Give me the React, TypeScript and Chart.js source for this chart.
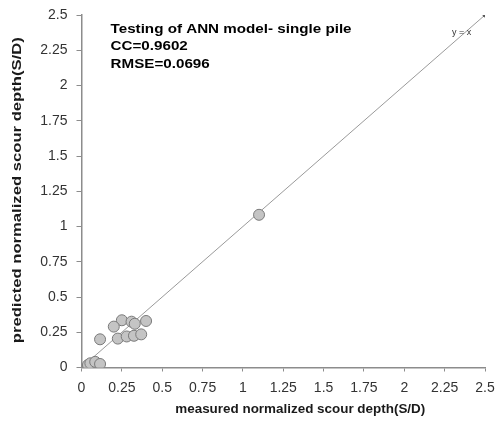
import React, { useEffect, useRef } from "react";
import { Chart, registerables } from "chart.js";

Chart.register(...registerables);

const measured = [0.25, 0.2, 0.31, 0.33, 0.4, 0.115, 0.225, 0.28, 0.325, 0.37, 0.04, 0.055, 0.085, 0.115, 1.1];
const predicted = [0.335, 0.29, 0.325, 0.31, 0.33, 0.2, 0.205, 0.22, 0.225, 0.235, 0.018, 0.03, 0.04, 0.025, 1.083];
const lineX = [0, 2.5];
const lineY = [0, 2.5];
const tickValues = [0, 0.25, 0.5, 0.75, 1, 1.25, 1.5, 1.75, 2, 2.25, 2.5];
const annotationLines = ["Testing of ANN model- single pile", "CC=0.9602", "RMSE=0.0696"];
const lineLabel = "y = x";
const xTitle = "measured normalized scour depth(S/D)";
const yTitle = "predicted normalized scour depth(S/D)";

const FONT = "'Liberation Sans', Arial, sans-serif";

function stretchedText(ctx: any, text: string, x: number, y: number, targetWidth: number, rotate = false) {
  const w = ctx.measureText(text).width;
  const k = targetWidth / w;
  ctx.save();
  ctx.translate(x, y);
  if (rotate) ctx.rotate(-Math.PI / 2);
  ctx.scale(k, 1);
  ctx.fillText(text, 0, 0);
  ctx.restore();
}

const textPlugin = {
  id: "textPlugin",
  afterDatasetsDraw(chart: any) {
    const { ctx, scales } = chart;
    const x = scales.x;
    const y = scales.y;
    ctx.save();
    ctx.fillStyle = "#000";
    ctx.font = `bold 13px ${FONT}`;
    ctx.textBaseline = "middle";
    ctx.textAlign = "left";
    const x0 = x.getPixelForValue(0.18);
    const y0 = y.getPixelForValue(2.4);
    const k = ctx.measureText(annotationLines[0]).width;
    const scale = 241 / k;
    annotationLines.forEach((t, i) => {
      ctx.save();
      ctx.translate(x0, y0 + i * 17.5);
      ctx.scale(scale, 1);
      ctx.fillText(t, 0, 0);
      ctx.restore();
    });
    ctx.font = `9px ${FONT}`;
    ctx.fillStyle = "#333";
    ctx.fillText(lineLabel, x.getPixelForValue(2.295), y.getPixelForValue(2.375));

    ctx.fillStyle = "#1a1a1a";
    ctx.font = `bold 12px ${FONT}`;
    ctx.textAlign = "center";
    stretchedText(ctx, xTitle, (x.left + x.right) / 2 + 17, chart.height - 11, 250);
    stretchedText(ctx, yTitle, 18, (y.top + y.bottom) / 2 - 1, 306, true);
    ctx.restore();
  },
};

export default function App() {
  const ref = useRef<HTMLCanvasElement>(null);
  useEffect(() => {
    if (!ref.current) return;
    const chart = new Chart(ref.current, {
      type: "scatter",
      data: {
        datasets: [
          {
            type: "scatter",
            data: measured.map((m, i) => ({ x: m, y: predicted[i] })),
            backgroundColor: "#c4c4c4",
            borderColor: "#7a7a7a",
            borderWidth: 1,
            pointRadius: 5.5,
            order: 1,
          },
          {
            type: "line",
            data: lineX.map((v, i) => ({ x: v, y: lineY[i] })),
            borderColor: "#9a9a9a",
            borderWidth: 1,
            pointRadius: [0, 2],
            pointBackgroundColor: "#555",
            pointBorderColor: "#555",
            fill: false,
            order: 2,
          } as any,
        ],
      },
      options: {
        animation: false,
        responsive: false,
        maintainAspectRatio: false,
        plugins: { legend: { display: false }, tooltip: { enabled: false } },
        layout: { padding: { top: 15, right: 11, left: 0, bottom: 0 } },
        scales: {
          x: {
            type: "linear",
            min: 0,
            max: 2.5,
            afterBuildTicks: (s: any) => {
              s.ticks = tickValues.map((v) => ({ value: v }));
            },
            afterFit: (s: any) => {
              s.height = 53.5;
              s.paddingLeft = 0;
              s.paddingRight = 0;
            },
            ticks: {
              color: "#333",
              font: { family: FONT, size: 14 },
              padding: 8,
              maxRotation: 0,
              autoSkip: false,
              callback: (v: any) => String(v),
            },
            grid: { display: true, drawOnChartArea: false, drawTicks: true, tickLength: 4, color: "#8c8c8c" },
            border: { display: true, color: "#8c8c8c", width: 1.5 },
            title: { display: false },
          },
          y: {
            type: "linear",
            min: 0,
            max: 2.5,
            afterBuildTicks: (s: any) => {
              s.ticks = tickValues.map((v) => ({ value: v }));
            },
            afterFit: (s: any) => {
              s.width = 81.5;
              s.paddingTop = 0;
              s.paddingBottom = 0;
            },
            ticks: {
              color: "#333",
              font: { family: FONT, size: 14 },
              padding: 9,
              autoSkip: false,
              callback: (v: any) => String(v),
            },
            grid: { display: true, drawOnChartArea: false, drawTicks: true, tickLength: 5, color: "#8c8c8c" },
            border: { display: true, color: "#8c8c8c", width: 1.5 },
            title: { display: false },
          },
        },
      },
      plugins: [textPlugin],
    });
    return () => chart.destroy();
  }, []);
  return (
    <div style={{ position: "fixed", left: 0, top: 0, width: 496, height: 421, background: "#fff" }}>
      <canvas ref={ref} width={496} height={421} style={{ display: "block", width: 496, height: 421 }} />
    </div>
  );
}
